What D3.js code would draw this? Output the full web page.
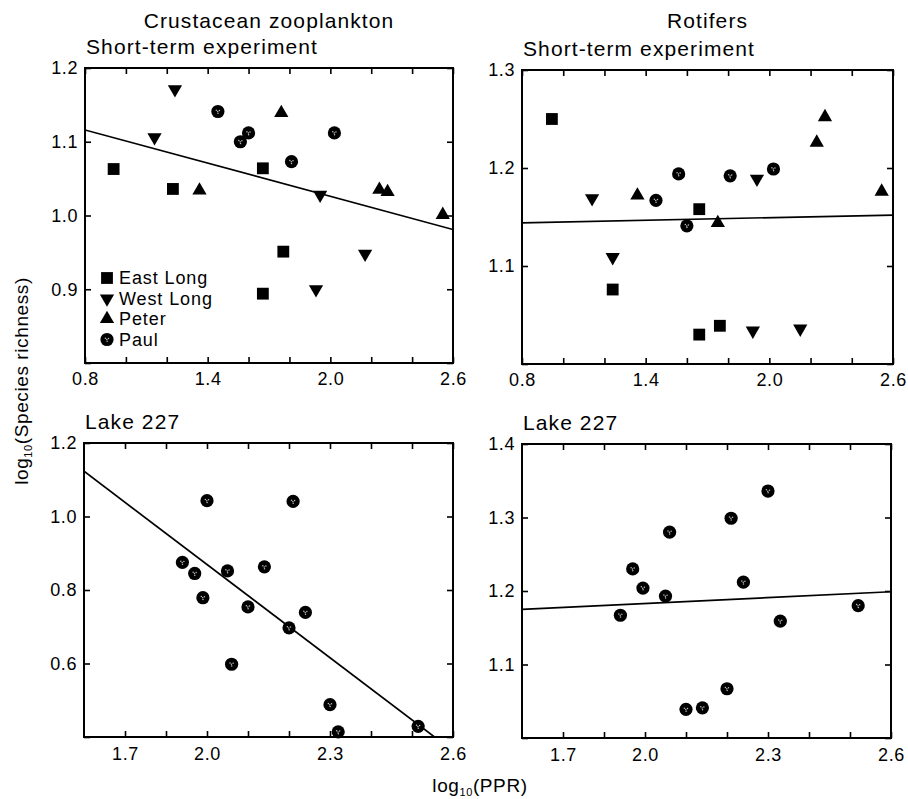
<!DOCTYPE html>
<html>
<head>
<meta charset="utf-8">
<script src="https://cdn.jsdelivr.net/npm/d3@7/dist/d3.min.js"></script>
<style>
  html, body { margin: 0; padding: 0; background: #fff; }
  svg { display: block; font-family: "Liberation Sans", Arial, Helvetica, sans-serif; }
</style>
</head>
<body>
<svg id="chart" width="908" height="799"></svg>
<script>
// ---------------- DATA ----------------
const columnTitles = ["Crustacean zooplankton", "Rotifers"];
const rowTitles = ["Short-term experiment", "Lake 227"];
const lakeNames = ["East Long", "West Long", "Peter", "Paul"];

// Crustacean zooplankton, short-term experiment: [log10(PPR), log10(richness)]
const crustEastLong = [[0.94, 1.063], [1.23, 1.036], [1.67, 1.064], [1.77, 0.951], [1.67, 0.894]];
const crustWestLong = [[1.24, 1.171], [1.14, 1.106], [1.95, 1.028], [2.17, 0.948], [1.93, 0.900]];
const crustPeter    = [[1.76, 1.139], [1.36, 1.034], [2.24, 1.035], [2.28, 1.032], [2.55, 1.001]];
const crustPaul     = [[1.45, 1.141], [1.60, 1.112], [1.56, 1.100], [2.02, 1.112], [1.81, 1.073]];
const crustShortFit = [[0.8, 1.116], [2.6, 0.981]];

// Rotifers, short-term experiment
const rotEastLong = [[0.945, 1.250], [1.24, 1.076], [1.66, 1.158], [1.66, 1.030], [1.76, 1.039]];
const rotWestLong = [[1.14, 1.169], [1.24, 1.109], [1.94, 1.189], [1.92, 1.034], [2.15, 1.036]];
const rotPeter    = [[2.27, 1.252], [2.23, 1.226], [2.545, 1.176], [1.36, 1.172], [1.75, 1.144]];
const rotPaul     = [[1.56, 1.194], [1.81, 1.192], [2.02, 1.199], [1.45, 1.167], [1.60, 1.141]];
const rotShortFit = [[0.8, 1.144], [2.6, 1.152]];

// Lake 227
const crustLake227 = [[2.00, 1.043], [2.21, 1.041], [1.94, 0.875], [1.97, 0.845], [2.05, 0.852], [2.14, 0.863],
  [1.99, 0.779], [2.10, 0.754], [2.24, 0.739], [2.20, 0.697], [2.06, 0.598], [2.30, 0.488], [2.32, 0.414], [2.515, 0.429]];
const crustLakeFit = [[1.7, 1.123], [2.6, 0.362]];
const rotLake227 = [[2.30, 1.336], [2.21, 1.299], [2.06, 1.280], [1.97, 1.230], [1.995, 1.204], [2.24, 1.212],
  [2.05, 1.193], [2.52, 1.180], [1.94, 1.167], [2.33, 1.159], [2.20, 1.067], [2.14, 1.041], [2.10, 1.039]];
const rotLakeFit = [[1.7, 1.175], [2.6, 1.199]];

// Tick values and labels
const shortXTicks = [0.8, 1.0, 1.2, 1.4, 1.6, 1.8, 2.0, 2.2, 2.4, 2.6];
const shortXLabelTicks = [0.8, 1.4, 2.0, 2.6];
const shortXLabels = ["0.8", "1.4", "2.0", "2.6"];
const lakeXTicks = [1.8, 1.9, 2.0, 2.1, 2.2, 2.3, 2.4, 2.5, 2.6];
const lakeXLabelTicks = [1.8, 2.0, 2.3, 2.6];
const lakeXLabels = ["1.7", "2.0", "2.3", "2.6"];

const crustShortYTicks = [0.8, 0.9, 1.0, 1.1, 1.2];
const crustShortYLabels = ["", "0.9", "1.0", "1.1", "1.2"];
const rotShortYTicks = [1.0, 1.1, 1.2, 1.3];
const rotShortYLabels = ["", "1.1", "1.2", "1.3"];
const crustLakeYTicks = [0.4, 0.6, 0.8, 1.0, 1.2];
const crustLakeYLabels = ["", "0.6", "0.8", "1.0", "1.2"];
const rotLakeYTicks = [1.0, 1.1, 1.2, 1.3, 1.4];
const rotLakeYLabels = ["", "1.1", "1.2", "1.3", "1.4"];

// ---------------- LAYOUT ----------------
const svg = d3.select("#chart");
const FONT_TITLE = 21, FONT_TICK = 18;

const panels = [
  { box: [85, 68, 453, 363], xd: [0.8, 2.6], yd: [0.8, 1.2],
    xt: shortXTicks, xlt: shortXLabelTicks, xl: shortXLabels, yt: crustShortYTicks, yl: crustShortYLabels,
    series: [["square", crustEastLong], ["down", crustWestLong], ["up", crustPeter], ["circle", crustPaul]],
    fit: crustShortFit, col: 0, row: 0, legend: true },
  { box: [522, 70, 893, 364], xd: [0.8, 2.6], yd: [1.0, 1.3],
    xt: shortXTicks, xlt: shortXLabelTicks, xl: shortXLabels, yt: rotShortYTicks, yl: rotShortYLabels,
    series: [["square", rotEastLong], ["down", rotWestLong], ["up", rotPeter], ["circle", rotPaul]],
    fit: rotShortFit, col: 1, row: 0 },
  { box: [84, 443, 453, 737], xd: [1.7, 2.6], yd: [0.4, 1.2],
    xt: lakeXTicks, xlt: lakeXLabelTicks, xl: lakeXLabels, yt: crustLakeYTicks, yl: crustLakeYLabels,
    series: [["circle", crustLake227]], fit: crustLakeFit, col: 0, row: 1 },
  { box: [522, 444, 891, 738], xd: [1.7, 2.6], yd: [1.0, 1.4],
    xt: lakeXTicks, xlt: lakeXLabelTicks, xl: lakeXLabels, yt: rotLakeYTicks, yl: rotLakeYLabels,
    series: [["circle", rotLake227]], fit: rotLakeFit, col: 1, row: 1 }
];

const defs = svg.append("defs");

function drawMarker(g, type, cx, cy) {
  if (type === "square") {
    g.append("path").attr("d", d3.symbol(d3.symbolSquare, 140)())
      .attr("transform", `translate(${cx},${cy})`).attr("fill", "#000");
  } else if (type === "up" || type === "down") {
    g.append("path").attr("d", d3.symbol(d3.symbolTriangle, 88)())
      .attr("transform", `translate(${cx},${cy}) rotate(${type === "down" ? 180 : 0})`).attr("fill", "#000");
  } else {
    const c = g.append("g").attr("transform", `translate(${cx},${cy})`);
    c.append("circle").attr("r", 6.6).attr("fill", "#000");
    [[-1.6, -1.2], [1.5, -0.9], [0.1, 1.8], [-0.2, 0.1]].forEach(([dx, dy]) =>
      c.append("circle").attr("cx", dx).attr("cy", dy).attr("r", 0.75).attr("fill", "#bbb"));
  }
}

panels.forEach((p, i) => {
  const [x0, y0, x1, y1] = p.box;
  const x = d3.scaleLinear().domain(p.xd).range([x0, x1]);
  const y = d3.scaleLinear().domain(p.yd).range([y1, y0]);
  const g = svg.append("g");

  defs.append("clipPath").attr("id", "clip" + i)
    .append("rect").attr("x", x0).attr("y", y0).attr("width", x1 - x0).attr("height", y1 - y0);

  const xFmt = v => { const k = p.xlt.findIndex(t => Math.abs(t - v) < 1e-9); return k >= 0 ? p.xl[k] : ""; };
  const yFmt = v => { const k = p.yt.findIndex(t => Math.abs(t - v) < 1e-9); return k >= 0 ? p.yl[k] : ""; };

  const axB = g.append("g").attr("transform", `translate(0,${y1})`)
    .call(d3.axisBottom(x).tickValues(p.xt).tickSizeInner(-6).tickSizeOuter(0).tickPadding(p.row === 0 ? 9 : 10).tickFormat(xFmt));
  const axT = g.append("g").attr("transform", `translate(0,${y0})`)
    .call(d3.axisTop(x).tickValues(p.xt).tickSizeInner(-6).tickSizeOuter(0).tickFormat(""));
  const axL = g.append("g").attr("transform", `translate(${x0},0)`)
    .call(d3.axisLeft(y).tickValues(p.yt).tickSizeInner(-6).tickSizeOuter(0).tickPadding(7).tickFormat(yFmt));
  const axR = g.append("g").attr("transform", `translate(${x1},0)`)
    .call(d3.axisRight(y).tickValues(p.yt).tickSizeInner(-6).tickSizeOuter(0).tickFormat(""));
  [axB, axT, axL, axR].forEach(a => {
    a.select(".domain").remove();
    a.selectAll(".tick line").attr("stroke", "#000").attr("stroke-width", 1.6);
    a.selectAll(".tick text").attr("font-size", FONT_TICK).attr("fill", "#000")
      .attr("font-family", "Liberation Sans, Arial, sans-serif").style("letter-spacing", "0.6px");
  });

  // frame
  g.append("rect").attr("x", x0).attr("y", y0).attr("width", x1 - x0).attr("height", y1 - y0)
    .attr("fill", "none").attr("stroke", "#000").attr("stroke-width", 2);

  // regression line
  g.append("path").datum(p.fit).attr("clip-path", `url(#clip${i})`)
    .attr("d", d3.line().x(d => x(d[0])).y(d => y(d[1])))
    .attr("fill", "none").attr("stroke", "#000").attr("stroke-width", 1.7);

  // points
  const mg = g.append("g");
  p.series.forEach(([type, pts]) => pts.forEach(d => drawMarker(mg, type, x(d[0]), y(d[1]))));

  // row title
  g.append("text").attr("x", x0 + 1).attr("y", y0 - 14).text(rowTitles[p.row])
    .attr("font-size", FONT_TITLE).style("letter-spacing", "1.1px").attr("fill", "#000");
  if (p.row === 0) {
    g.append("text").attr("x", (x0 + x1) / 2).attr("y", 28).attr("text-anchor", "middle")
      .text(columnTitles[p.col]).attr("font-size", FONT_TITLE).style("letter-spacing", "1.1px").attr("fill", "#000");
  }

  if (p.legend) {
    const types = ["square", "down", "up", "circle"];
    const lg = g.append("g");
    lakeNames.forEach((name, k) => {
      const cy = 278 + k * 20.5;
      drawMarker(lg, types[k], 107, cy);
      lg.append("text").attr("x", 119).attr("y", cy).attr("dy", "0.36em").text(name)
        .attr("font-size", 18).style("letter-spacing", "0.9px").attr("fill", "#000");
    });
  }
});

// axis titles
const yLab = svg.append("text").attr("transform", "translate(28,381) rotate(-90)")
  .attr("text-anchor", "middle").attr("font-size", 19).style("letter-spacing", "0.6px").attr("fill", "#000");
yLab.append("tspan").text("log");
yLab.append("tspan").attr("font-size", 11).attr("dy", 4).text("10");
yLab.append("tspan").attr("dy", -4).text("(Species richness)");

const xLab = svg.append("text").attr("x", 480).attr("y", 792)
  .attr("text-anchor", "middle").attr("font-size", 19).style("letter-spacing", "0.6px").attr("fill", "#000");
xLab.append("tspan").text("log");
xLab.append("tspan").attr("font-size", 11).attr("dy", 4).text("10");
xLab.append("tspan").attr("dy", -4).text("(PPR)");
</script>
</body>
</html>
